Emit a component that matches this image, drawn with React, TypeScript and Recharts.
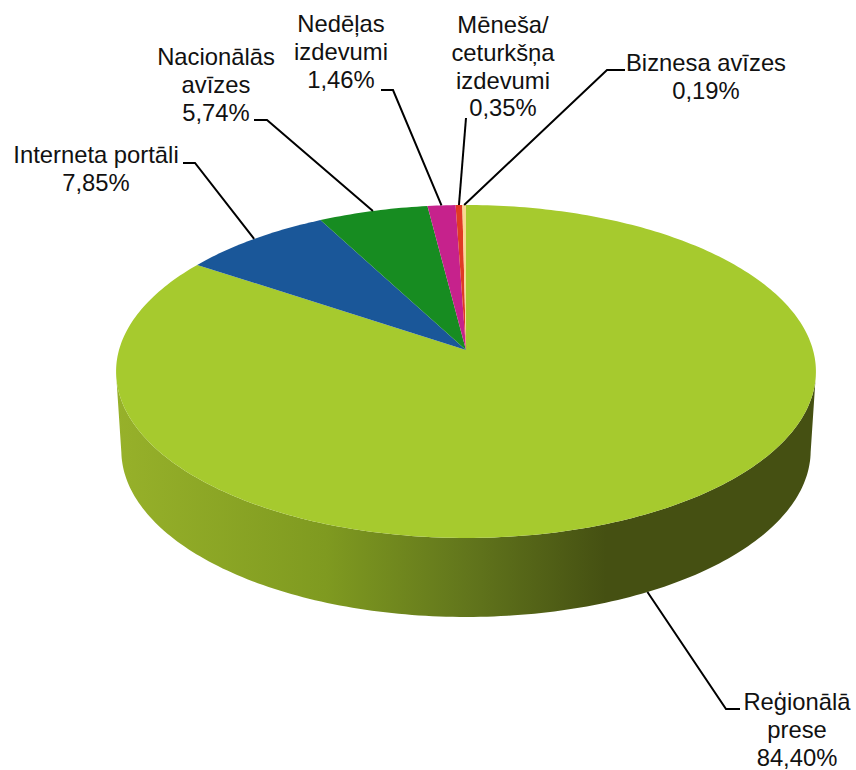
import { Pie, PieChart } from "recharts";

// Chart values, clockwise from 12 o'clock
const categories = [
	"Reģionālā prese",
	"Interneta portāli",
	"Nacionālās avīzes",
	"Nedēļas izdevumi",
	"Mēneša/ceturkšņa izdevumi",
	"Biznesa avīzes",
];
const shares = [84.4, 7.85, 5.74, 1.46, 0.35, 0.19];
const shareLabels = ["84,40%", "7,85%", "5,74%", "1,46%", "0,35%", "0,19%"];
const nameLines = [
	["Reģionālā", "prese"],
	["Interneta portāli"],
	["Nacionālās", "avīzes"],
	["Nedēļas", "izdevumi"],
	["Mēneša/", "ceturkšņa", "izdevumi"],
	["Biznesa avīzes"],
];

const sliceColors = ["#a6ca2e", "#1a5799", "#178c21", "#c6228c", "#e03a24", "#f8d890"];

// Label layout: text centre, first baseline, leader elbow points
const labelLayout = [
	{ x: 797, y: 710, elbow: [[726, 709], [740, 709]] },
	{ x: 96, y: 163, elbow: [[195, 163], [183, 163]] },
	{ x: 216, y: 65, elbow: [[267, 120], [254, 120]] },
	{ x: 341, y: 32, elbow: [[393, 90], [381, 90]] },
	{ x: 503, y: 33, elbow: [[466, 118]] },
	{ x: 706, y: 71, elbow: [[607, 70], [625, 70]] },
];

const WIDTH = 856;
const HEIGHT = 770;
const CX = 466;
const CY = 350;
const RADIUS = 347;
const FONT_SIZE = 23.8;
const LINE_HEIGHT = 27.8;

// Tilted disc: a circle seen in perspective, so the apex sits above the ellipse centre
const SQUASH = 0.4718;
const PERSPECTIVE = -0.129;
const DEPTH = 79;
const BASE_SCALE = 0.985;

const chartData = categories.map((name, i) => ({
	name,
	value: shares[i],
	fill: sliceColors[i],
}));

function project(angle: number, radius: number, scale = 1, drop = 0) {
	const rad = (angle * Math.PI) / 180;
	const ux = Math.cos(rad);
	const uy = -Math.sin(rad);
	const w = 1 + PERSPECTIVE * uy;
	return {
		x: CX + (radius * scale * ux) / w,
		y: CY + (radius * SQUASH * uy) / w + drop,
		front: uy > -PERSPECTIVE,
	};
}

function sweep(start: number, end: number) {
	const steps = Math.max(2, Math.ceil(Math.abs(end - start)));
	const angles: number[] = [];
	for (let i = 0; i <= steps; i++) {
		angles.push(start + ((end - start) * i) / steps);
	}
	return angles;
}

function toPath(points: { x: number; y: number }[]) {
	return points
		.map((p, i) => `${i ? "L" : "M"}${p.x.toFixed(2)} ${p.y.toFixed(2)}`)
		.join(" ");
}

function DiscSlice(props: any) {
	const { startAngle, endAngle, outerRadius, fill } = props;
	const angles = sweep(startAngle, endAngle);
	const rim = angles.map((a) => project(a, outerRadius));
	const top = `M${CX} ${CY} ${toPath(rim).replace("M", "L")} Z`;

	const frontAngles = angles.filter((a) => project(a, outerRadius).front);
	let wall = "";
	if (frontAngles.length > 1) {
		const upper = frontAngles.map((a) => project(a, outerRadius));
		const lower = frontAngles
			.map((a) => project(a, outerRadius, BASE_SCALE, DEPTH))
			.reverse();
		wall = `${toPath([...upper, ...lower])} Z`;
	}

	return (
		<g>
			{wall && <path d={wall} fill="url(#wallShade)" />}
			<path d={top} fill={fill} />
		</g>
	);
}

function SliceLabel(props: any) {
	const { index, midAngle, outerRadius } = props;
	const spot = labelLayout[index];
	const onWall = project(midAngle, outerRadius).front;
	const anchor = onWall
		? project(midAngle, outerRadius, BASE_SCALE, DEPTH)
		: project(midAngle, outerRadius);
	const lines = [...nameLines[index], shareLabels[index]];
	const leader = [anchor, ...spot.elbow.map(([x, y]) => ({ x, y }))];

	return (
		<g>
			<path d={toPath(leader)} fill="none" stroke="#000" strokeWidth={2} />
			<text
				x={spot.x}
				y={spot.y}
				textAnchor="middle"
				fontFamily="Liberation Sans, Arial, sans-serif"
				fontSize={FONT_SIZE}
				fill="#111"
			>
				{lines.map((line, i) => (
					<tspan key={line} x={spot.x} y={spot.y + i * LINE_HEIGHT}>
						{line}
					</tspan>
				))}
			</text>
		</g>
	);
}

export default function App() {
	return (
		<div style={{ position: "absolute", left: 0, top: 0, width: WIDTH, height: HEIGHT }}>
			<PieChart
				width={WIDTH}
				height={HEIGHT}
				margin={{ top: 0, right: 0, bottom: 0, left: 0 }}
			>
				<defs>
					<linearGradient
						id="wallShade"
						gradientUnits="userSpaceOnUse"
						x1={116}
						y1={0}
						x2={816}
						y2={0}
					>
						<stop offset="0" stopColor="#97b12a" />
						<stop offset="0.3" stopColor="#7f9a20" />
						<stop offset="0.5" stopColor="#62761c" />
						<stop offset="0.7" stopColor="#455012" />
						<stop offset="1" stopColor="#455012" />
					</linearGradient>
				</defs>
				<Pie
					data={chartData}
					dataKey="value"
					nameKey="name"
					cx={CX}
					cy={CY}
					outerRadius={RADIUS}
					startAngle={90}
					endAngle={-270}
					stroke="none"
					shape={DiscSlice}
					label={SliceLabel}
					labelLine={false}
					isAnimationActive={false}
				/>
			</PieChart>
		</div>
	);
}
